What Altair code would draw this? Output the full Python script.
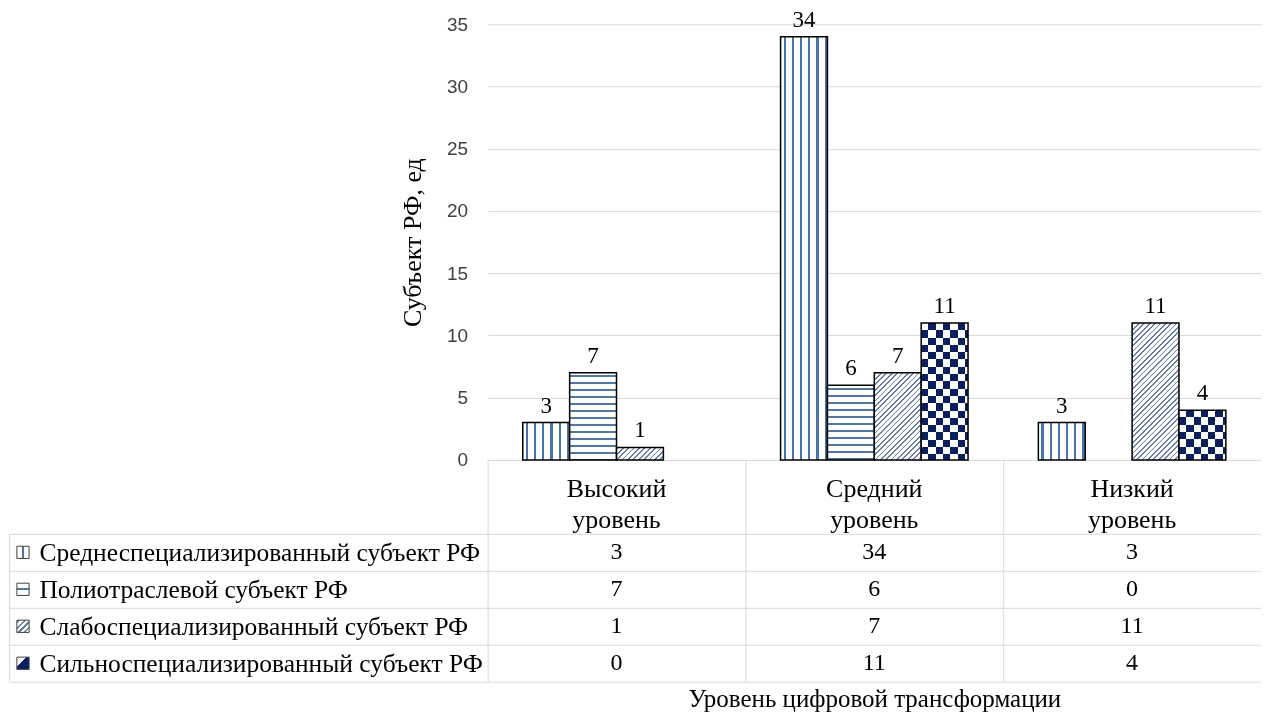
import math
import altair as alt
import pandas as pd

# ---------------- data ----------------
CATEGORIES = ["Высокий уровень", "Средний уровень", "Низкий уровень"]
HEADER_LABELS = ["Высокий\nуровень", "Средний\nуровень", "Низкий\nуровень"]
SERIES = [
    "Среднеспециализированный субъект РФ",
    "Полиотраслевой субъект РФ",
    "Слабоспециализированный субъект РФ",
    "Сильноспециализированный субъект РФ",
]
S1 = [3, 34, 3]
S2 = [7, 6, 0]
S3 = [1, 7, 11]
S4 = [0, 11, 4]
SERIES_VALUES = [S1, S2, S3, S4]
Y_TICKS = [0, 5, 10, 15, 20, 25, 30, 35]
Y_TITLE = "Субъект РФ, ед"
X_TITLE = "Уровень цифровой трансформации"

# ---------------- layout / style ----------------
SERIF = "Liberation Serif"
SANS = "Liberation Sans"
GRID = "#d9d9d9"
COL_W = 258
PLOT_W = 3 * COL_W
BAR_H = 436
Y_MAX = 35
ROW_H = 37
TABLE_H = 6 * ROW_H
LABEL_COL = 479
SLOT_PAD = 0.75
SLOT_W = COL_W / (4 + 2 * SLOT_PAD)
PX_PER_UNIT = BAR_H / Y_MAX

BLUE_V = "#4a74a8"
BLUE_H = "#52779f"
HATCH = "#6880a6"
NAVY = "#0b1f5c"
CELL = 7.3

bars_df = pd.DataFrame(
    [
        {"category": c, "series": s, "value": vals[i]}
        for s, vals in zip(SERIES, SERIES_VALUES)
        for i, c in enumerate(CATEGORIES)
        if vals[i] > 0
    ]
)
table_df = pd.DataFrame(
    [
        {"category": c, "series": s, "row": 2.5 + j, "value": vals[i]}
        for j, (s, vals) in enumerate(zip(SERIES, SERIES_VALUES))
        for i, c in enumerate(CATEGORIES)
    ]
)
header_df = pd.DataFrame({"category": CATEGORIES, "label": HEADER_LABELS, "row": [1] * 3})
keys_df = pd.DataFrame({"series": SERIES, "row": [2.5 + j for j in range(len(SERIES))]})


def stripe_stops(length, period, width, fg, bg, phase):
    stops = [{"offset": 0, "color": bg}]
    pos = phase
    while pos < length:
        a = round(max(pos, 0) / length, 5)
        b = round(min(pos + width, length) / length, 5)
        stops += [
            {"offset": a, "color": bg},
            {"offset": a, "color": fg},
            {"offset": b, "color": fg},
            {"offset": b, "color": bg},
        ]
        pos += period
    stops.append({"offset": 1, "color": bg})
    return stops


def linear(x2, y2, stops):
    return {"gradient": "linear", "x1": 0, "y1": 0, "x2": x2, "y2": y2, "stops": stops}


def vertical_fill():
    return linear(1, 0, stripe_stops(SLOT_W, 8.2, 2.2, BLUE_V, "#ffffff", 3))


def horizontal_fill(v):
    h = v * PX_PER_UNIT
    return linear(0, 1, stripe_stops(h, 7.0, 2.0, BLUE_H, "#ffffff", 2.5))


def diagonal_fill(v):
    h = v * PX_PER_UNIT
    w = SLOT_W
    s = (1 / h + 1 / w) / (1 / h ** 2 + 1 / w ** 2)
    length = (w + h) / math.sqrt(2)
    return linear(s / h, s / w, stripe_stops(length, 3.8, 1.2, HATCH, "#ffffff", 0.8))


def checker_rows(v):
    h = v * PX_PER_UNIT
    return linear(0, 1, stripe_stops(h, 2 * CELL, CELL, "#000000", "#ffffff", 0))


def checker_cols():
    return linear(1, 0, stripe_stops(SLOT_W, 2 * CELL, CELL, "#ffffff", "#000000", 0))


# small legend-key fills (12 px squares)
KEY_FILLS = [
    linear(1, 0, stripe_stops(12, 12, 2, BLUE_V, "#ffffff", 5)),
    linear(0, 1, stripe_stops(12, 12, 2, BLUE_H, "#ffffff", 5)),
    linear(1, 1, stripe_stops(17, 4, 1.5, HATCH, "#ffffff", 1)),
    linear(1, 1, [{"offset": 0, "color": "#ffffff"}, {"offset": 0.4, "color": "#ffffff"},
                  {"offset": 0.4, "color": NAVY}, {"offset": 1, "color": NAVY}]),
]

X_ENC = alt.X(
    "category:N",
    scale=alt.Scale(domain=CATEGORIES, paddingInner=0, paddingOuter=0),
    axis=None,
)
XO_ENC = alt.XOffset("series:N", scale=alt.Scale(domain=SERIES, paddingInner=0, paddingOuter=SLOT_PAD))
Y_ENC = alt.Y(
    "value:Q",
    scale=alt.Scale(domain=[0, Y_MAX], nice=False),
    axis=alt.Axis(
        values=Y_TICKS, grid=True, gridColor=GRID, ticks=False, domain=False,
        labelFont=SANS, labelFontSize=19, labelColor="#404040", labelPadding=20,
        title=Y_TITLE, titleFont=SERIF, titleFontSize=26, titleFontWeight="normal",
        titleColor="black", titlePadding=21,
    ),
)


def bar_layer(si, ci=None, **mark):
    cond = alt.datum.series == SERIES[si]
    if ci is not None:
        cond = cond & (alt.datum.category == CATEGORIES[ci])
    return (
        alt.Chart(bars_df)
        .transform_filter(cond)
        .mark_bar(**mark)
        .encode(x=X_ENC, xOffset=XO_ENC, y=Y_ENC)
    )


layers = [bar_layer(0, fill=vertical_fill(), stroke="black", strokeWidth=1.5)]
for ci, v in enumerate(S2):
    if v > 0:
        layers.append(bar_layer(1, ci, fill=horizontal_fill(v), stroke="black", strokeWidth=1.5))
for ci, v in enumerate(S3):
    if v > 0:
        layers.append(bar_layer(2, ci, fill=diagonal_fill(v), stroke="black", strokeWidth=1.5))
for ci, v in enumerate(S4):
    if v > 0:
        layers.append(bar_layer(3, ci, fill=checker_rows(v), strokeWidth=0))
        layers.append(bar_layer(3, ci, fill=checker_cols(), strokeWidth=0, blend="difference"))
        layers.append(bar_layer(3, ci, fill=NAVY, strokeWidth=0, blend="lighten"))
layers.append(bar_layer(3, fill="white", fillOpacity=0, stroke="black", strokeWidth=1.5))

labels = (
    alt.Chart(bars_df)
    .mark_text(baseline="bottom", dy=-5, font=SERIF, fontSize=23, color="black")
    .encode(x=X_ENC, xOffset=XO_ENC, y=Y_ENC, text="value:Q")
)
layers.append(labels)

bars = alt.layer(*layers).properties(width=PLOT_W, height=BAR_H)

# ---------------- data table ----------------
label_expr = " : ".join(
    f"datum.value == {2 + j} ? '{s}'" for j, s in enumerate(SERIES)
) + " : ''"

Y_AX = alt.Axis(
    values=[2, 3, 4, 5, 6], grid=True, gridColor=GRID, tickSize=LABEL_COL, tickColor=GRID,
    domain=False, labelExpr=label_expr, labelAlign="left", labelBaseline="middle",
    labelPadding=-30, labelOffset=ROW_H / 2, labelFont=SERIF, labelFontSize=25.5,
    labelColor="black", labelLimit=0, labelOverlap=False, title=None,
)
Y_SCALE = alt.Scale(domain=[0, 6], reverse=True, nice=False, zero=False)
TX_ENC = alt.X(
    "category:N",
    scale=alt.Scale(domain=CATEGORIES, paddingInner=0, paddingOuter=0),
    axis=alt.Axis(
        orient="bottom", grid=True, gridColor=GRID, tickBand="extent", labels=False, ticks=False,
        domain=False, title=X_TITLE, titleFont=SERIF, titleFontSize=25,
        titleFontWeight="normal", titleColor="black", titlePadding=5,
    ),
)
TY_ENC = alt.Y("row:Q", scale=Y_SCALE, axis=Y_AX)

numbers = (
    alt.Chart(table_df)
    .mark_text(font=SERIF, fontSize=24, color="black", baseline="middle")
    .encode(x=TX_ENC, y=TY_ENC, text="value:Q")
)
headers = (
    alt.Chart(header_df)
    .mark_text(font=SERIF, fontSize=26, color="black", baseline="middle", lineBreak="\n",
               lineHeight=31, dy=-8)
    .encode(x=TX_ENC, y=TY_ENC, text="label:N")
)
left_rule = (
    alt.Chart(pd.DataFrame({"k": [0]}))
    .mark_rule(color=GRID, strokeWidth=1)
    .encode(x=alt.value(-LABEL_COL + 0.5), y=alt.YDatum(2, scale=Y_SCALE, axis=Y_AX), y2=alt.Y2Datum(6))
)
key_layers = [
    alt.Chart(keys_df)
    .transform_filter(alt.datum.series == s)
    .mark_point(shape="square", size=150, filled=True, fill=KEY_FILLS[j], fillOpacity=1,
                stroke="#404040", strokeWidth=1, opacity=1)
    .encode(x=alt.value(-465), y=alt.Y("row:Q", scale=Y_SCALE, axis=Y_AX))
    for j, s in enumerate(SERIES)
]
table = alt.layer(numbers, headers, left_rule, *key_layers).properties(width=PLOT_W, height=TABLE_H)

chart = (
    alt.vconcat(bars, table, spacing=0, bounds="flush")
    .properties(padding={"left": 0, "right": 0, "top": 0, "bottom": 0})
    .configure_view(stroke=None)
)

chart.save("out.html", embed_options={"renderer": "svg", "actions": False})
